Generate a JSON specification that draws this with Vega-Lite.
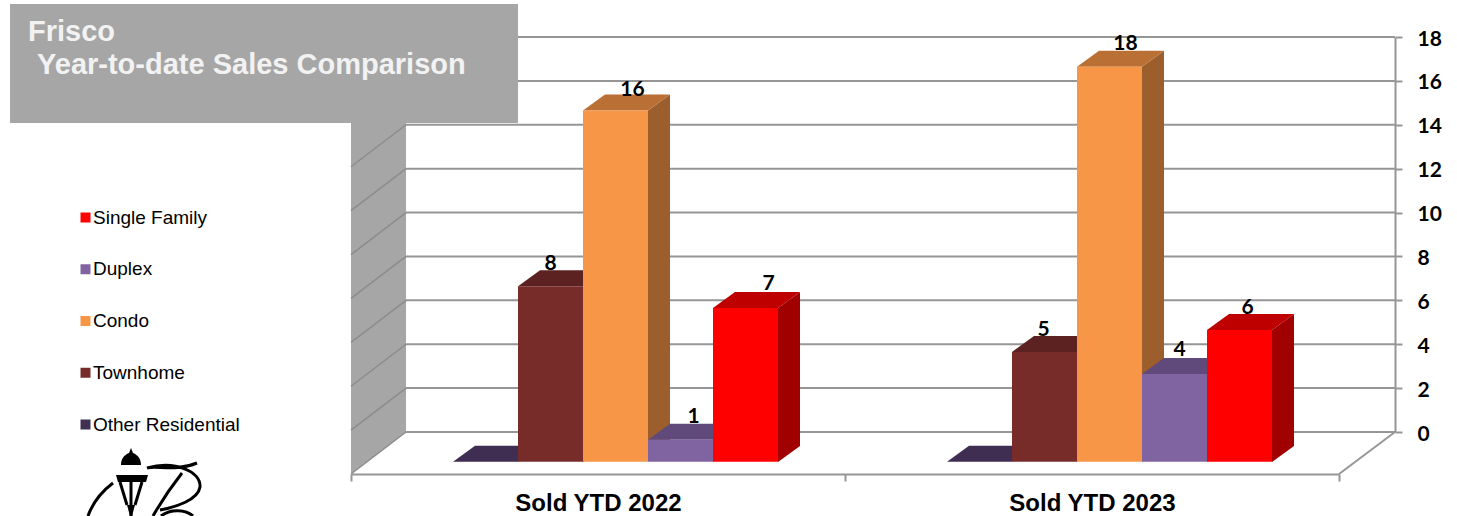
{"$schema":"https://vega.github.io/schema/vega-lite/v6.json","width":1457,"height":516,"padding":0,"autosize":"none","background":"white","title":{"text":"Frisco","anchor":"start","frame":"group","orient":"top","offset":-47,"dx":28,"fontSize":29,"font":"Liberation Sans","fontWeight":"bold","color":"#F2F2F2","zindex":1},"config":{"view":{"stroke":null},"font":"Liberation Sans"},"datasets":{"sales":[{"period":"Sold YTD 2022","type":"Other Residential","sold":0},{"period":"Sold YTD 2022","type":"Townhome","sold":8},{"period":"Sold YTD 2022","type":"Condo","sold":16},{"period":"Sold YTD 2022","type":"Duplex","sold":1},{"period":"Sold YTD 2022","type":"Single Family","sold":7},{"period":"Sold YTD 2023","type":"Other Residential","sold":0},{"period":"Sold YTD 2023","type":"Townhome","sold":5},{"period":"Sold YTD 2023","type":"Condo","sold":18},{"period":"Sold YTD 2023","type":"Duplex","sold":4},{"period":"Sold YTD 2023","type":"Single Family","sold":6}],"ticks":[{"v":0},{"v":2},{"v":4},{"v":6},{"v":8},{"v":10},{"v":12},{"v":14},{"v":16},{"v":18}]},"resolve":{"scale":{"x":"independent","y":"independent"},"axis":{"x":"independent","y":"independent"}},"layer":[{"resolve":{"axis":{"y":"independent"}},"layer":[{"data":{"values":[{"part":"wall"}]},"mark":{"type":"point","shape":"M0,0L0,395L-55,437L-55,42Z","size":4,"filled":true,"opacity":1,"color":"#A6A6A6"},"encoding":{"x":{"datum":0.0527,"type":"quantitative","scale":{"domain":[0,1],"range":[351,1395]},"axis":null},"y":{"datum":18,"type":"quantitative","scale":{"domain":[0,18],"range":[432,37]},"axis":null}}},{"data":{"name":"ticks"},"mark":{"type":"rule","color":"#969696","strokeWidth":2},"encoding":{"x":{"datum":0.0527,"type":"quantitative","scale":{"domain":[0,1],"range":[351,1395]},"axis":null},"x2":{"datum":1},"y":{"field":"v","type":"quantitative","scale":{"domain":[0,18],"range":[432,37]},"axis":{"orient":"right","offset":-62,"values":[0,2,4,6,8,10,12,14,16,18],"title":null,"grid":false,"domainColor":"#969696","domainWidth":2,"tickColor":"#969696","tickWidth":2,"tickSize":7,"labelFont":"Lato","labelFontWeight":"bold","labelFontSize":21,"labelColor":"#000000","labelPadding":15,"labelOffset":2}}}},{"data":{"name":"ticks"},"mark":{"type":"rule","color":"#8C8C8C","strokeWidth":1.5,"y2Offset":42},"encoding":{"x":{"datum":0.0527,"type":"quantitative","scale":{"domain":[0,1],"range":[351,1395]},"axis":null},"x2":{"datum":0},"y":{"field":"v","type":"quantitative","scale":{"domain":[0,18],"range":[432,37]},"axis":null},"y2":{"field":"v"}}},{"data":{"values":[{"part":"floor"}]},"mark":{"type":"rule","color":"#969696","strokeWidth":2,"y2Offset":42},"encoding":{"x":{"datum":1,"type":"quantitative","scale":{"domain":[0,1],"range":[351,1395]},"axis":null},"x2":{"datum":0.9464},"y":{"datum":0,"type":"quantitative","scale":{"domain":[0,18],"range":[432,37]},"axis":null},"y2":{"datum":0}}},{"data":{"values":[{"part":"box"}]},"mark":{"type":"point","shape":"M0,0L112,0L112,86L-396,86L-396,-33L112,-33L112,0Z","size":4,"filled":true,"opacity":1,"color":"#A6A6A6"},"encoding":{"x":{"datum":0.0527,"type":"quantitative","scale":{"domain":[0,1],"range":[351,1395]},"axis":null},"y":{"datum":18,"type":"quantitative","scale":{"domain":[0,18],"range":[432,37]},"axis":null}}},{"data":{"values":[{"label":"Year-to-date Sales Comparison"}]},"mark":{"type":"text","align":"left","baseline":"middle","dx":-369,"dy":28,"font":"Liberation Sans","fontWeight":"bold","fontSize":29,"color":"#F2F2F2"},"encoding":{"text":{"field":"label","type":"nominal"},"x":{"datum":0.0527,"type":"quantitative","scale":{"domain":[0,1],"range":[351,1395]},"axis":null},"y":{"datum":18,"type":"quantitative","scale":{"domain":[0,18],"range":[432,37]},"axis":null}}},{"data":{"values":[{"part":"logo"}]},"mark":{"type":"point","shape":"M-220,16L-218,21C-213,23 -210,27 -210,33L-230,33C-230,27 -227,23 -222,21ZM-235,43L-203,43L-205,50L-233,50ZM-224,73L-216,73L-219,84L-221,84Z","size":4,"filled":true,"opacity":1,"color":"#000000"},"encoding":{"x":{"datum":0,"type":"quantitative","scale":{"domain":[0,1],"range":[351,1395]},"axis":null},"y":{"datum":0,"type":"quantitative","scale":{"domain":[0,18],"range":[432,37]},"axis":null}}},{"data":{"values":[{"part":"logo"}]},"mark":{"type":"point","shape":"M-231,50L-224,73M-209,50L-216,73M-220,50L-220,84M-154,31C-175,40 -195,33 -204,36C-175,28 -150,40 -151,55C-153,68 -175,75 -191,78M-169,41C-180,55 -190,70 -198,84M-238,51C-250,60 -258,70 -263,84M-190,84C-180,76 -165,78 -158,84","size":4,"filled":false,"opacity":1,"color":"#000000","strokeWidth":3},"encoding":{"x":{"datum":0,"type":"quantitative","scale":{"domain":[0,1],"range":[351,1395]},"axis":null},"y":{"datum":0,"type":"quantitative","scale":{"domain":[0,18],"range":[432,37]},"axis":null}}}]},{"data":{"name":"sales"},"resolve":{"scale":{"color":"independent","shape":"independent"}},"encoding":{"x":{"field":"period","type":"nominal","scale":{"range":[351,1339],"paddingInner":0,"paddingOuter":0},"axis":{"orient":"bottom","offset":-42,"title":null,"labelAngle":0,"tickBand":"extent","domainColor":"#969696","domainWidth":2,"tickColor":"#969696","tickWidth":2,"tickSize":7,"labelFont":"Liberation Sans","labelFontWeight":"bold","labelFontSize":24,"labelColor":"#000000","labelPadding":10}},"xOffset":{"field":"type","type":"nominal","scale":{"domain":["Other Residential","Townhome","Condo","Duplex","Single Family"],"range":[102,427],"paddingInner":0,"paddingOuter":0}},"y":{"field":"sold","type":"quantitative","scale":{"domain":[0,18],"range":[432,37]},"axis":null}},"layer":[{"mark":{"type":"point","filled":true,"opacity":1,"size":4,"yOffset":29.7},"encoding":{"shape":{"field":"sold","type":"nominal","legend":null,"scale":{"domain":[0,1,4,5,6,7,8,16,18],"range":["M32.5,0L54.5,-16L54.5,-16L32.5,0Z","M32.5,0L54.5,-16L54.5,6L32.5,22Z","M32.5,0L54.5,-16L54.5,72L32.5,88Z","M32.5,0L54.5,-16L54.5,94L32.5,110Z","M32.5,0L54.5,-16L54.5,116L32.5,132Z","M32.5,0L54.5,-16L54.5,138L32.5,154Z","M32.5,0L54.5,-16L54.5,160L32.5,176Z","M32.5,0L54.5,-16L54.5,335L32.5,351Z","M32.5,0L54.5,-16L54.5,379L32.5,395Z"]}},"color":{"field":"type","type":"nominal","legend":null,"scale":{"domain":["Single Family","Duplex","Condo","Townhome","Other Residential"],"range":["#A00000","#564270","#9B5E2C","#4F1D1C","#2B2137"]}}}},{"mark":{"type":"point","filled":true,"opacity":1,"size":4,"yOffset":29.7,"shape":"M-32.5,0L32.5,0L54.5,-16L-10.5,-16Z"},"encoding":{"color":{"field":"type","type":"nominal","legend":null,"scale":{"domain":["Single Family","Duplex","Condo","Townhome","Other Residential"],"range":["#BF0000","#604A7B","#BA7034","#5C2221","#3F2D52"]}}}},{"mark":{"type":"bar","yOffset":29.7,"y2Offset":29.7},"encoding":{"y2":{"datum":0},"color":{"field":"type","type":"nominal","scale":{"domain":["Single Family","Duplex","Condo","Townhome","Other Residential"],"range":["#FF0000","#8064A2","#F79646","#772C2A","#403152"]},"legend":{"title":null,"orient":"none","legendX":76,"legendY":208,"symbolType":"square","symbolSize":100,"symbolStrokeWidth":0,"labelFont":"Liberation Sans","labelFontSize":19,"labelColor":"#000000","labelOffset":-2,"rowPadding":31.75}}}},{"transform":[{"filter":"datum.period==='Sold YTD 2022' && datum.type==='Townhome'"}],"mark":{"type":"text","font":"Lato","fontWeight":"bold","fontSize":21,"color":"#000000","yOffset":29.7,"dx":0,"dy":-22},"encoding":{"text":{"field":"sold","type":"quantitative"}}},{"transform":[{"filter":"datum.period==='Sold YTD 2022' && datum.type==='Condo'"}],"mark":{"type":"text","font":"Lato","fontWeight":"bold","fontSize":21,"color":"#000000","yOffset":29.7,"dx":17,"dy":-21},"encoding":{"text":{"field":"sold","type":"quantitative"}}},{"transform":[{"filter":"datum.period==='Sold YTD 2022' && datum.type==='Duplex'"}],"mark":{"type":"text","font":"Lato","fontWeight":"bold","fontSize":21,"color":"#000000","yOffset":29.7,"dx":13,"dy":-23},"encoding":{"text":{"field":"sold","type":"quantitative"}}},{"transform":[{"filter":"datum.period==='Sold YTD 2022' && datum.type==='Single Family'"}],"mark":{"type":"text","font":"Lato","fontWeight":"bold","fontSize":21,"color":"#000000","yOffset":29.7,"dx":23,"dy":-24},"encoding":{"text":{"field":"sold","type":"quantitative"}}},{"transform":[{"filter":"datum.period==='Sold YTD 2023' && datum.type==='Townhome'"}],"mark":{"type":"text","font":"Lato","fontWeight":"bold","fontSize":21,"color":"#000000","yOffset":29.7,"dx":-1,"dy":-22},"encoding":{"text":{"field":"sold","type":"quantitative"}}},{"transform":[{"filter":"datum.period==='Sold YTD 2023' && datum.type==='Condo'"}],"mark":{"type":"text","font":"Lato","fontWeight":"bold","fontSize":21,"color":"#000000","yOffset":29.7,"dx":16,"dy":-23},"encoding":{"text":{"field":"sold","type":"quantitative"}}},{"transform":[{"filter":"datum.period==='Sold YTD 2023' && datum.type==='Duplex'"}],"mark":{"type":"text","font":"Lato","fontWeight":"bold","fontSize":21,"color":"#000000","yOffset":29.7,"dx":5,"dy":-24},"encoding":{"text":{"field":"sold","type":"quantitative"}}},{"transform":[{"filter":"datum.period==='Sold YTD 2023' && datum.type==='Single Family'"}],"mark":{"type":"text","font":"Lato","fontWeight":"bold","fontSize":21,"color":"#000000","yOffset":29.7,"dx":8,"dy":-22},"encoding":{"text":{"field":"sold","type":"quantitative"}}}]}]}
